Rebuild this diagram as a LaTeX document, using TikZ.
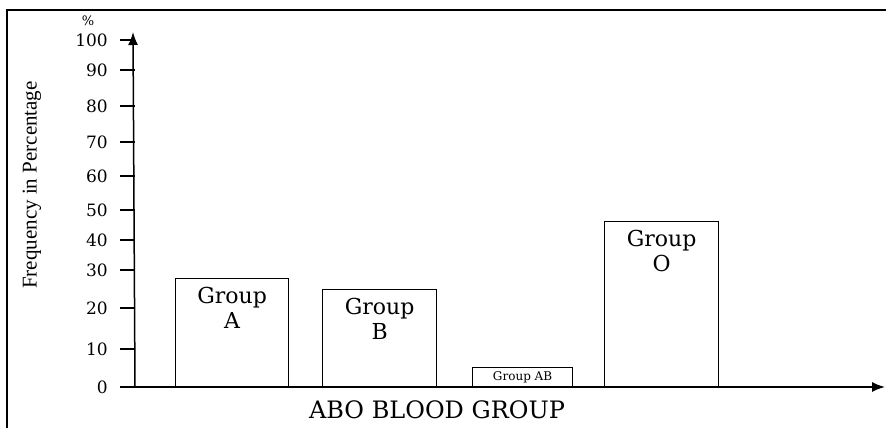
\documentclass[tikz,border=0pt]{standalone}
\usepackage{fontspec}
\setmainfont{DejaVu Serif}
\newfontfamily\labelfont{Liberation Serif}
\usetikzlibrary{positioning, arrows.meta}

\begin{document}
\begin{tikzpicture}[
    x=1pt, y=-1pt,
    bar/.style={rectangle, draw, line width=1.2pt, inner sep=0pt, anchor=south west},
    barlabel/.style={align=center, font=\fontsize{22}{25}\selectfont, inner sep=0pt},
    ticklabel/.style={anchor=east, font=\fontsize{17}{18}\selectfont, inner sep=0pt},
    axis/.style={line width=1.5pt, -{Latex[length=13pt, width=10pt]}}
]
\useasboundingbox (0,0) rectangle (886,428);

% Frame
\draw[line width=1.6pt] (7,428) -- (7,10) -- (886,10);

% Axes
\coordinate (origin) at (135,387);
\coordinate (xstart) at (122,387);
\coordinate (xend) at (885,381);
\coordinate (yend) at (133,32);
\draw[axis] (xstart) -- (xend |- origin);
\draw[axis] (origin) -- (yend);

% Ticks
\foreach \val/\ypos in {0/387, 10/349, 20/308, 30/270, 40/240, 50/210, 60/176, 70/142, 80/106, 90/70, 100/40} {
    \draw[line width=1.1pt] (120,\ypos) -- (135,\ypos);
    \node[ticklabel] (tick\val) at (108,\ypos) {\val};
}
\node[font=\fontsize{13}{14}\selectfont, inner sep=0pt] (pct) at (88,21) {\%};

% Bars
\node[bar, minimum width=113pt, minimum height=108pt] (grpA) at (175,387) {};
\node[bar, minimum width=114pt, minimum height=97pt] (grpB) at (322,387) {};
\node[bar, minimum width=100pt, minimum height=19pt] (grpAB) at (472,387) {};
\node[bar, minimum width=114pt, minimum height=165pt] (grpO) at (604,387) {};

\node[barlabel, below=9pt of grpA.north] (labA) {Group\\A};
\node[barlabel, below=9pt of grpB.north] (labB) {Group\\B};
\node[barlabel, below=9pt of grpO.north] (labO) {Group\\O};
\node[font=\fontsize{12}{12}\selectfont, inner sep=0pt] (labAB) at (grpAB.center) {Group AB};

% Axis titles
\node[rotate=90, font=\labelfont\fontsize{21}{24}\selectfont] (ytitle) at (32,185) {Frequency in Percentage};
\node[font=\fontsize{24}{26}\selectfont] (xtitle) at (437,410) {ABO BLOOD GROUP};

\end{tikzpicture}
\end{document}
